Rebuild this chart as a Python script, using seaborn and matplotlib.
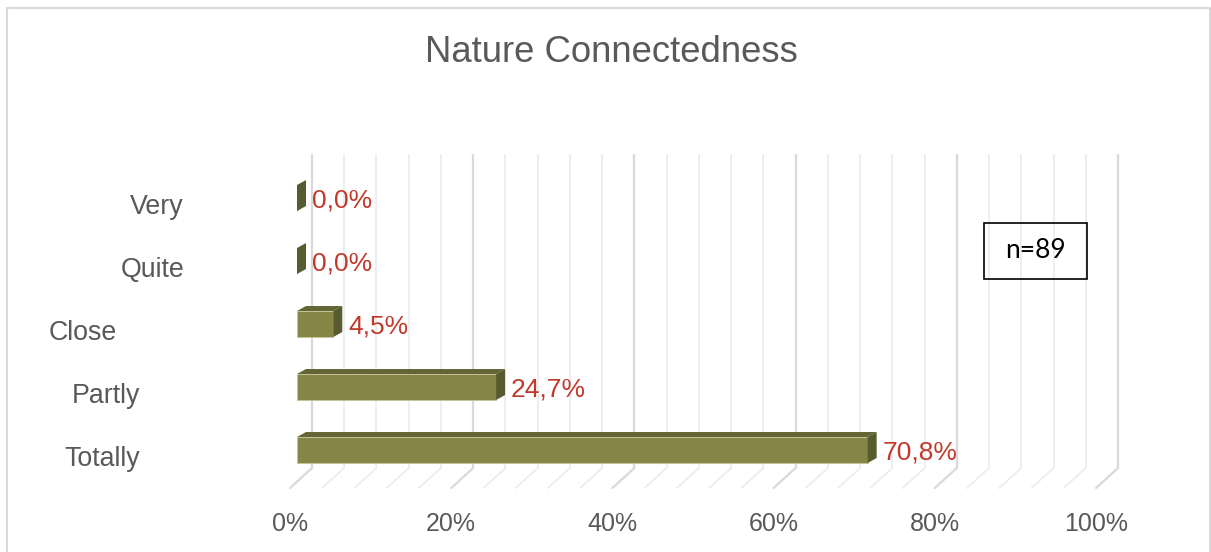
import matplotlib
matplotlib.use("Agg")
import matplotlib.pyplot as plt
import matplotlib.transforms as mtransforms
from matplotlib.patches import Polygon, Rectangle
from matplotlib.lines import Line2D
import seaborn as sns

# данные
categories = ["Very", "Quite", "Close", "Partly", "Totally"]
percent = [0.0, 0.0, 4.5, 24.7, 70.8]
tick_values = [0, 20, 40, 60, 80, 100]
n_label = "n=89"

# раскладка (пиксели)
W, H = 1211, 552
label_right_px = [184, 184, 117, 140, 140]

sns.set_style("white")
plt.rcParams["font.family"] = ["Liberation Sans", "DejaVu Sans"]

fig = plt.figure(figsize=(W / 100, H / 100), dpi=100)
ax = fig.add_axes([297 / W, 1 - 488 / H, 806 / W, 333 / H])

front = "#868746"
dark_top = "#636634"
dark_side = "#585b2f"
grey_txt = "#595959"
red_txt = "#C0392B"

sns.barplot(x=percent, y=categories, orient="h", color=front, saturation=1,
            width=26 / 63, edgecolor="#c4c49a", linewidth=0.6, ax=ax, zorder=3)

ax.set_xlim(0, 100)
ax.set_ylim(4.603, -0.683)
sx = 806 / 100   # px на 1%
sy = 63          # px на категорию

# сетка задней стенки и пола
blend = mtransforms.blended_transform_factory(ax.transData, ax.transAxes)
for v in range(0, 101, 4):
    col = "#d9d9d9" if v % 20 == 0 else "#ededed"
    lw = 1.6 if v % 20 == 0 else 1.3
    xb = v + 15 / sx
    xf = v - 7 / sx
    ax.plot([xb, xb], [0.06, 1.0], color=col, lw=lw, transform=blend,
            zorder=0, clip_on=False)
    ax.plot([xb, xf], [0.06, 0.0], color=col, lw=lw, transform=blend,
            zorder=0, clip_on=False)

# 3D грани столбцов
ddx = 9 / sx
ddy = 5 / sy
for p in list(ax.patches):
    x0 = p.get_x()
    x1 = x0 + p.get_width()
    yt = p.get_y()
    yb = yt + p.get_height()
    top = Polygon([(x0, yt), (x1, yt), (x1 + ddx, yt - ddy), (x0 + ddx, yt - ddy)],
                  closed=True, facecolor=dark_top, edgecolor="none", zorder=3)
    side = Polygon([(x1, yt), (x1 + ddx, yt - ddy), (x1 + ddx, yb - ddy), (x1, yb)],
                   closed=True, facecolor=dark_side, edgecolor="none", zorder=3)
    ax.add_patch(top)
    ax.add_patch(side)

# подписи значений
for i, v in enumerate(percent):
    ax.annotate(f"{v:.1f}".replace(".", ",") + "%", xy=(v, i),
                xytext=(15 * 0.72, -2 * 0.72), textcoords="offset points",
                ha="left", va="center", color=red_txt, fontsize=19, zorder=5)

# подписи категорий
cat_tr = mtransforms.blended_transform_factory(fig.transFigure, ax.transData)
for i, c in enumerate(categories):
    ax.text(label_right_px[i] / W, i + 9 / sy, c, transform=cat_tr,
            ha="right", va="center", color=grey_txt, fontsize=19.3)

# ось X
ax.set_xticks(tick_values)
ax.set_xticklabels([f"{t}%" for t in tick_values], color=grey_txt, fontsize=18)
ax.tick_params(axis="x", length=0, pad=17)
shift = mtransforms.ScaledTranslation(-7 / 100, 0, fig.dpi_scale_trans)
for lab in ax.get_xticklabels():
    lab.set_transform(lab.get_transform() + shift)
ax.set_yticks([])
ax.set_xlabel("")
ax.set_ylabel("")
for s in ax.spines.values():
    s.set_visible(False)
ax.patch.set_alpha(0)

# заголовок
fig.text(611 / W, 1 - 52 / H, "Nature Connectedness", ha="center", va="center",
         fontsize=26.3, color=grey_txt)

# рамка n=89
fig.add_artist(Rectangle((984 / W, 1 - 279 / H), 103 / W, 56 / H,
                         transform=fig.transFigure, fill=False,
                         edgecolor="black", lw=1.2))
fig.text(1035.5 / W, 1 - 251 / H, n_label, ha="center", va="center",
         fontsize=19, color="black", family=["Lato", "DejaVu Sans"])

# внешняя рамка (без нижней линии, как в оригинале)
fig.add_artist(Line2D([7 / W, 7 / W, 1210 / W, 1210 / W],
                      [0, 1 - 8 / H, 1 - 8 / H, 0],
                      transform=fig.transFigure, color="#d9d9d9", lw=1.5))

fig.savefig("out.png", dpi=100)
plt.close(fig)
